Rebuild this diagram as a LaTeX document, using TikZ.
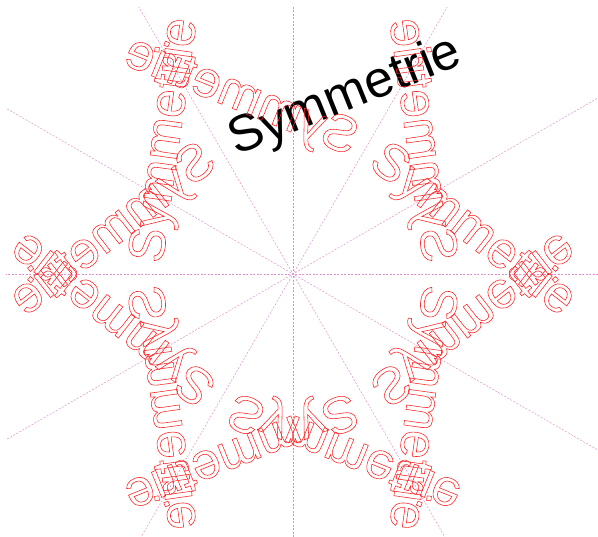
\documentclass[tikz,border=0pt]{standalone}
\usepackage{fontspec}
\setmainfont{Liberation Sans}
\definecolor{mirrorpink}{RGB}{220,145,205}
\definecolor{copyred}{RGB}{255,30,30}
\newcommand{\hollow}[1]{\special{pdf:literal direct 1 Tr 0.55 w}#1\special{pdf:literal direct 0 Tr}}
\tikzset{
  mirror/.style={draw=mirrorpink, line width=0.5pt, dash pattern=on 2pt off 1.5pt},
  word/.style={font=\fontsize{51.5}{60}\selectfont, inner sep=0pt, anchor=base west, rotate=22},
  image/.style={word, transform shape, text=copyred}
}

\begin{document}
\begin{tikzpicture}[x=1pt,y=1pt]
\useasboundingbox (-293,-263) rectangle (305,274);
\coordinate (O) at (0,0);
% mirror axes
\begin{scope}
\clip (-287,-263) rectangle (305,266);
\foreach \a in {0,30,...,150}
  \draw[mirror] (\a:400) -- (\a+180:400);
\end{scope}
\node[word] (orig) at (-57,118) {Symmetrie};
% rotated copies
\foreach \k in {1,...,5}{
  \begin{scope}[rotate around={60*\k:(O)}]
  \node[image] (rot\k) at (-57,118) {\hollow{Symmetrie}};
  \end{scope}
}
% reflected copies
\foreach \a in {0,30,...,150}{
  \pgfmathsetmacro\ca{cos(2*\a)}
  \pgfmathsetmacro\sa{sin(2*\a)}
  \pgfmathsetmacro\na{-cos(2*\a)}
  \begin{scope}[cm={\ca,\sa,\sa,\na,(0,0)}]
  \node[image] (ref\a) at (-57,118) {\hollow{Symmetrie}};
  \end{scope}
}
\end{tikzpicture}
\end{document}
